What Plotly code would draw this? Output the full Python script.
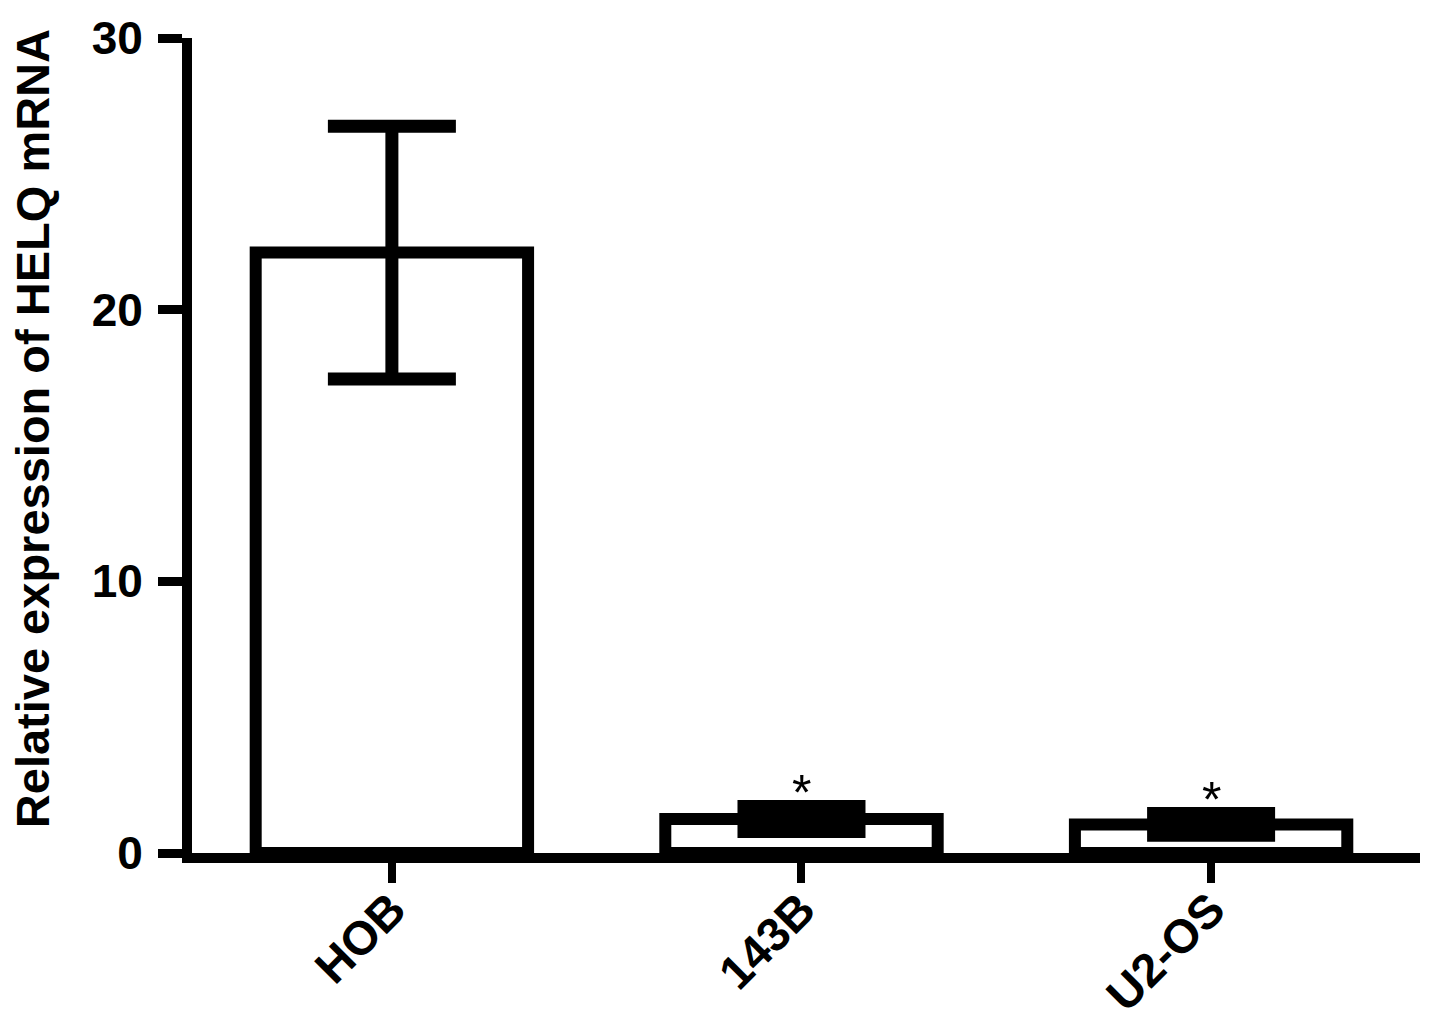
import plotly.graph_objects as go

# relative HELQ mRNA expression (mean +/- error)
cell_lines = ["HOB", "143B", "U2-OS"]
expression = [22.1, 1.25, 1.05]
error = [4.65, 0.46, 0.40]
significance = ["", "*", "*"]

y_ticks = [0, 10, 20, 30]
y_title = "Relative expression of HELQ mRNA"

font_family = "Arial, Liberation Sans, sans-serif"

fig = go.Figure()

fig.add_trace(go.Bar(
    x=cell_lines,
    y=expression,
    width=0.665,
    marker=dict(color="white", line=dict(color="black", width=12)),
    error_y=dict(type="data", array=error, visible=True,
                 color="black", thickness=13, width=64),
    showlegend=False,
))

for name, val, err, mark in zip(cell_lines, expression, error, significance):
    if mark:
        fig.add_annotation(
            x=name, y=val + err, text=mark, showarrow=False,
            yanchor="bottom", yshift=-16,
            font=dict(family=font_family, size=50, color="black"),
        )

# y-axis title as a rotated annotation so it can sit close to the page edge
fig.add_annotation(
    xref="paper", yref="paper", x=0, y=0.52, xshift=-160,
    text=y_title, textangle=-90, showarrow=False,
    xanchor="center", yanchor="middle",
    font=dict(family=font_family, size=47, color="black", weight="bold"),
)

fig.update_layout(
    width=1441,
    height=1025,
    plot_bgcolor="white",
    paper_bgcolor="white",
    margin=dict(l=192, r=21, t=38, b=172),
    font=dict(family=font_family, color="black"),
)

fig.update_xaxes(
    range=[-0.488, 2.51],
    automargin=False,
    showline=True, linecolor="black", linewidth=10,
    ticks="outside", ticklen=20, tickwidth=8, tickcolor="black",
    tickangle=-45,
    ticklabelstandoff=-20,
    tickfont=dict(family=font_family, size=47, color="black", weight="bold"),
    showgrid=False, zeroline=False,
)

fig.update_yaxes(
    range=[0, 30],
    automargin=False,
    tickvals=y_ticks,
    showline=True, linecolor="black", linewidth=10,
    ticks="outside", ticklen=24, tickwidth=9, tickcolor="black",
    ticklabelstandoff=6,
    tickfont=dict(family=font_family, size=46, color="black", weight="bold"),
    showgrid=False, zeroline=False,
)

# drop the default page margin so the figure fills the window exactly
fig.write_html("out.html", config={"displayModeBar": False},
               post_script="document.body.style.margin='0';")
